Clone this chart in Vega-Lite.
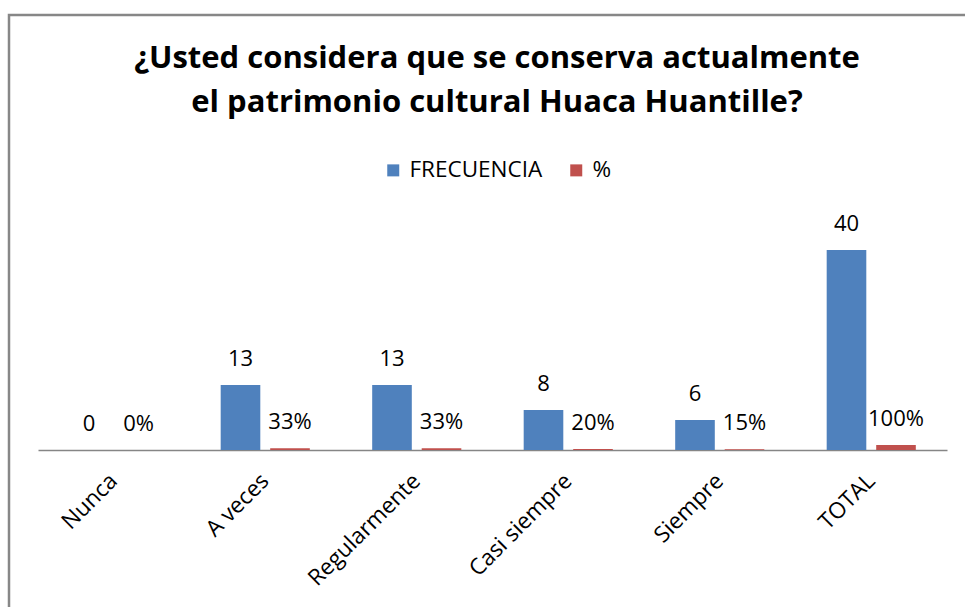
{
  "$schema": "https://vega.github.io/schema/vega-lite/v6.json",
  "width": 976,
  "height": 612,
  "autosize": {"type": "none"},
  "padding": {"left": 9, "top": 15, "right": -20, "bottom": -20},
  "background": "white",
  "config": {
    "view": {"stroke": "#878787", "strokeWidth": 2.5},
    "font": "Open Sans"
  },
  "title": {
    "text": ["¿Usted considera que se conserva actualmente", "el patrimonio cultural Huaca Huantille?"],
    "font": "Open Sans",
    "fontSize": 31,
    "fontWeight": "bold",
    "color": "#000000",
    "lineHeight": 44,
    "anchor": "middle",
    "frame": "group",
    "offset": -104
  },
  "data": {
    "values": [
      {"categoria": "Nunca", "serie": "FRECUENCIA", "valor": 0},
      {"categoria": "Nunca", "serie": "%", "valor": 0},
      {"categoria": "A veces", "serie": "FRECUENCIA", "valor": 13},
      {"categoria": "A veces", "serie": "%", "valor": 0.33},
      {"categoria": "Regularmente", "serie": "FRECUENCIA", "valor": 13},
      {"categoria": "Regularmente", "serie": "%", "valor": 0.33},
      {"categoria": "Casi siempre", "serie": "FRECUENCIA", "valor": 8},
      {"categoria": "Casi siempre", "serie": "%", "valor": 0.2},
      {"categoria": "Siempre", "serie": "FRECUENCIA", "valor": 6},
      {"categoria": "Siempre", "serie": "%", "valor": 0.15},
      {"categoria": "TOTAL", "serie": "FRECUENCIA", "valor": 40},
      {"categoria": "TOTAL", "serie": "%", "valor": 1}
    ]
  },
  "encoding": {
    "x": {
      "field": "categoria",
      "type": "nominal",
      "sort": null,
      "title": null,
      "scale": {"range": [29, 938], "paddingInner": 0, "paddingOuter": 0},
      "axis": {
        "offset": -177,
        "domainColor": "#868686",
        "domainWidth": 1.5,
        "ticks": false,
        "grid": false,
        "labelAngle": -45,
        "labelAlign": "right",
        "labelBaseline": "middle",
        "labelFont": "Open Sans",
        "labelFontSize": 22.5,
        "labelColor": "#000000",
        "labelPadding": 27,
        "labelLimit": 300
      }
    },
    "xOffset": {
      "field": "serie",
      "sort": ["FRECUENCIA", "%"],
      "scale": {"domain": ["FRECUENCIA", "%"], "paddingInner": 0.2, "paddingOuter": 0.63}
    },
    "y": {
      "field": "valor",
      "type": "quantitative",
      "scale": {"domain": [-35.4, 87], "nice": false, "zero": false},
      "axis": null
    }
  },
  "layer": [
    {
      "mark": {"type": "bar"},
      "encoding": {
        "color": {
          "field": "serie",
          "type": "nominal",
          "sort": ["FRECUENCIA", "%"],
          "scale": {"domain": ["FRECUENCIA", "%"], "range": ["#4F81BD", "#C0504D"]},
          "legend": {
            "orient": "none",
            "legendX": 373,
            "legendY": 144,
            "direction": "horizontal",
            "title": null,
            "symbolType": "square",
            "symbolSize": 144,
            "symbolStrokeWidth": 0,
            "labelFont": "Open Sans",
            "labelFontSize": 22.5,
            "labelColor": "#000000",
            "labelOffset": 5,
            "columnPadding": 22,
            "padding": 0
          }
        }
      }
    },
    {
      "transform": [{"filter": "datum.serie === 'FRECUENCIA'"}],
      "mark": {"type": "text", "dy": -26, "baseline": "middle", "fontSize": 22, "font": "Open Sans", "color": "#000000"},
      "encoding": {"text": {"field": "valor", "type": "quantitative", "format": "d"}}
    },
    {
      "transform": [{"filter": "datum.serie === '%'"}],
      "mark": {"type": "text", "dy": -26, "baseline": "middle", "fontSize": 22, "font": "Open Sans", "color": "#000000"},
      "encoding": {"text": {"field": "valor", "type": "quantitative", "format": ".0%"}}
    }
  ]
}
